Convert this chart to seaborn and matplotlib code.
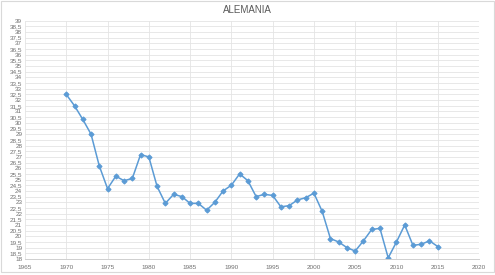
import matplotlib
matplotlib.use("Agg")
import matplotlib.pyplot as plt
import seaborn as sns
import pandas as pd
import numpy as np
from matplotlib.patches import Rectangle
from matplotlib.ticker import FuncFormatter, MultipleLocator

years = list(range(1970, 2016))
values = [32.5, 31.5, 30.3, 29.0, 26.2, 24.2, 25.3, 24.9, 25.1, 27.2,
          27.0, 24.4, 22.9, 23.7, 23.5, 22.9, 22.9, 22.3, 23.0, 24.0,
          24.5, 25.5, 24.9, 23.5, 23.7, 23.6, 22.6, 22.7, 23.2, 23.4,
          23.8, 22.2, 19.8, 19.5, 19.0, 18.7, 19.6, 20.6, 20.7, 18.1,
          19.5, 21.0, 19.2, 19.3, 19.6, 19.1]
title = "ALEMANIA"

df = pd.DataFrame({"year": years, "value": values})

sns.set_theme(style="white")
plt.rcParams['font.family'] = ['Liberation Sans', 'DejaVu Sans']

fig = plt.figure(figsize=(4.95, 2.75), dpi=100)
ax = fig.add_axes([25/495, 1-259/275, (479-25)/495, (259-20.7)/275])

sns.lineplot(data=df, x="year", y="value", ax=ax, color="#5B9BD5",
             linewidth=1.1, marker="D", markersize=2.6,
             markeredgecolor="#5B9BD5", markerfacecolor="#5B9BD5")

ax.set_xlim(1965, 2020)
ax.set_ylim(18, 39)
ax.xaxis.set_major_locator(MultipleLocator(5))
ax.yaxis.set_major_locator(MultipleLocator(0.5))

def fmt(v, pos):
    if abs(v - round(v)) < 1e-9:
        return str(int(round(v)))
    return ("%.1f" % v).replace(".", ",")

ax.yaxis.set_major_formatter(FuncFormatter(fmt))
ax.xaxis.set_major_formatter(FuncFormatter(lambda v, p: str(int(round(v)))))
ax.tick_params(axis='both', length=0, labelsize=4.6, colors="#707070", pad=2)
ax.tick_params(axis='x', pad=4)
ax.grid(True, color="#E4E4E4", linewidth=0.6)
ax.set_axisbelow(True)
for s in ["top", "right", "left"]:
    ax.spines[s].set_visible(False)
ax.spines["bottom"].set_color("#CFCFCF")
ax.spines["bottom"].set_linewidth(0.7)
ax.set_xlabel("")
ax.set_ylabel("")

fig.text(0.5, 1-10/275, title, ha="center", va="center", fontsize=7,
         color="#595959")

fig.patches.append(Rectangle((1/495, 3/275), 493/495, 271/275, transform=fig.transFigure,
                             fill=False, edgecolor="#D9D9D9", linewidth=0.8))

fig.savefig("out.png", dpi=100)
